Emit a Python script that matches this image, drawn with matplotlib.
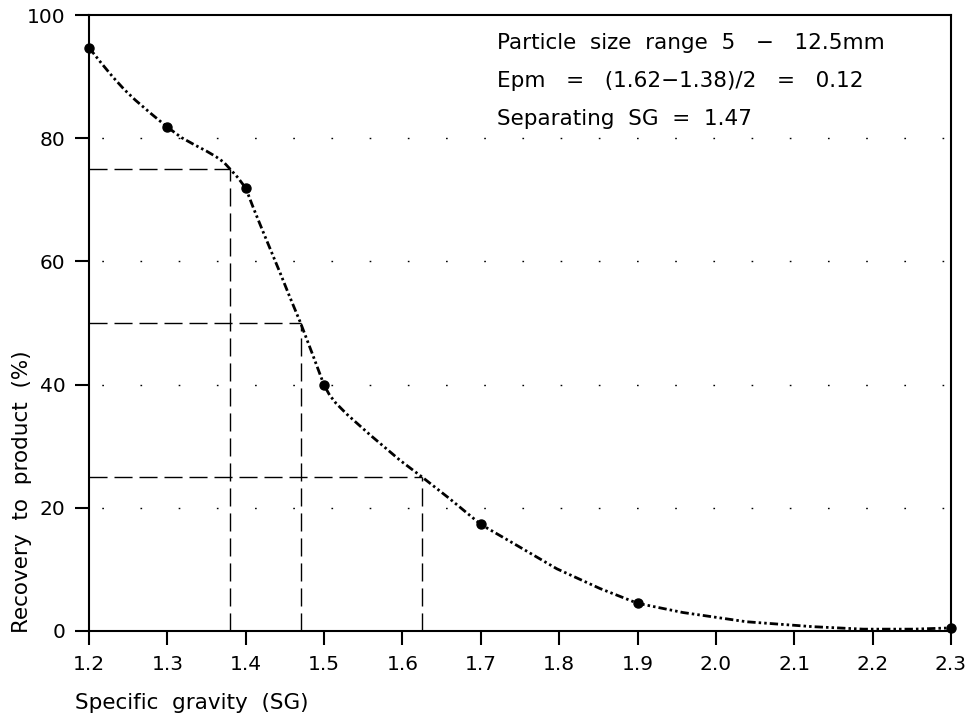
import matplotlib
matplotlib.use('Agg')
import matplotlib.pyplot as plt

# measured points (markers)
sg_points = [1.2, 1.3, 1.4, 1.5, 1.7, 1.9, 2.3]
rec_points = [94.7, 81.8, 71.9, 39.9, 17.3, 4.5, 0.5]

# hand drawn curve
curve_sg = [1.200, 1.215, 1.230, 1.245, 1.259, 1.280, 1.300, 1.318, 1.335, 1.350,
            1.362, 1.372, 1.380, 1.390, 1.400, 1.410, 1.4225, 1.444, 1.456, 1.470,
            1.485, 1.500, 1.507, 1.515, 1.529, 1.559, 1.597, 1.625, 1.660, 1.700,
            1.746, 1.797, 1.852, 1.900, 1.958, 2.039, 2.124, 2.188, 2.252, 2.300]
curve_rec = [94.7, 92.3, 90.0, 87.9, 86.2, 83.9, 81.8, 80.1, 78.9, 77.9,
             77.0, 76.1, 75.0, 73.6, 71.9, 68.6, 64.7, 58.1, 54.3, 50.0,
             45.0, 39.9, 38.3, 37.0, 35.2, 31.8, 27.7, 25.0, 21.5, 17.3,
             13.9, 10.1, 6.9, 4.5, 3.0, 1.5, 0.7, 0.3, 0.3, 0.5]

# 75 / 50 / 25 % cut points
cut_sg = [1.38, 1.47, 1.625]
cut_rec = [75, 50, 25]

x_ticks = [1.2, 1.3, 1.4, 1.5, 1.6, 1.7, 1.8, 1.9, 2.0, 2.1, 2.2, 2.3]
y_ticks = [0, 20, 40, 60, 80, 100]

notes = ['Particle  size  range  5   \u2212   12.5mm',
         'Epm   =   (1.62\u22121.38)/2   =   0.12',
         'Separating  SG  =  1.47']

plt.rcParams['font.family'] = ['DejaVu Sans']

fig = plt.figure(figsize=(9.77, 7.21), dpi=100)
ax = fig.add_axes([89 / 977, 1 - 631 / 721, (951 - 89) / 977, (631 - 15) / 721])

ax.plot(curve_sg, curve_rec, color='black', lw=2.0,
        linestyle=(0, (3, 1.1, 0.9, 1.1, 0.9, 1.1)))
ax.plot(sg_points, rec_points, 'o', color='black', ms=6.5, clip_on=False)

for s, r in zip(cut_sg, cut_rec):
    ax.plot([x_ticks[0], s], [r, r], color='black', lw=1.0, linestyle=(0, (13, 5)))
    ax.plot([s, s], [0, r], color='black', lw=1.0, linestyle=(0, (13, 5)))

ax.set_xlim(x_ticks[0], x_ticks[-1])
ax.set_ylim(0, 100)
ax.set_xticks(x_ticks)
ax.set_xticklabels([f'{t:.1f}' for t in x_ticks])
ax.set_yticks(y_ticks)
ax.tick_params(direction='out', length=10, width=1.5, labelsize=14.5, pad=7)

for gy in y_ticks[1:-1]:
    ax.axhline(gy, color='black', lw=1.0, linestyle=(18.3, (1.2, 26.3)))

for sp in ax.spines.values():
    sp.set_linewidth(1.5)

for i, t in enumerate(notes):
    fig.text(497 / 977, 1 - (43 + 38 * i) / 721, t, fontsize=15.5, va='center', ha='left')

fig.text(75 / 977, 1 - 703 / 721, 'Specific  gravity  (SG)', fontsize=15.5, va='center', ha='left')
fig.text(22 / 977, 1 - 492 / 721, 'Recovery  to  product  (%)', fontsize=15.5,
         rotation=90, va='center', ha='center')

fig.savefig('out.png', dpi=100)
